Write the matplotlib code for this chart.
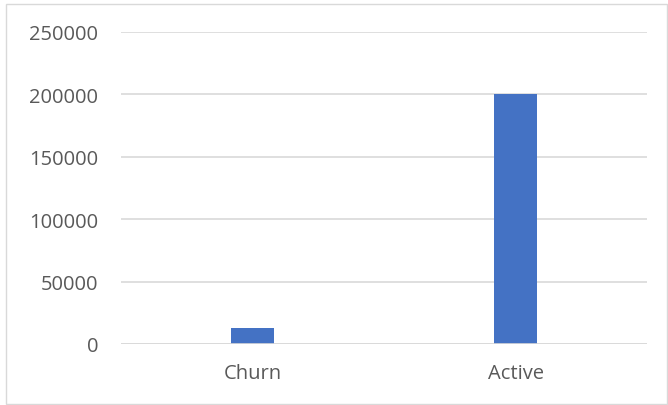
import matplotlib
matplotlib.use("Agg")
import matplotlib.pyplot as plt
from matplotlib.patches import Rectangle

categories = ["Churn", "Active"]
counts = [13000, 200000]
yticks = [0, 50000, 100000, 150000, 200000, 250000]

BAR = "#4472C4"
GRID = "#D9D9D9"
TEXT = "#595959"

plt.rcParams.update({"font.family": ["Open Sans", "DejaVu Sans"], "font.size": 14.5})

fig = plt.figure(figsize=(6.68, 4.06), dpi=100)
ax = fig.add_axes([121 / 668, 1 - 345 / 406, 526 / 668, 312 / 406])

x = list(range(len(categories)))
ax.bar(x, counts, width=0.167, color=BAR, zorder=3)
ax.set_xlim(-0.5, len(categories) - 0.5)
ax.set_ylim(0, 250000)
ax.set_yticks(yticks)
ax.set_yticklabels([str(v) for v in yticks])
ax.set_xticks(x)
ax.set_xticklabels(categories)
ax.yaxis.grid(True, color=GRID, linewidth=1.2, zorder=0)
ax.tick_params(length=0, colors=TEXT, labelsize=14.5)
ax.tick_params(axis="y", pad=16.5)
ax.tick_params(axis="x", pad=13.5)
for s in ax.spines.values():
    s.set_visible(False)
ax.axhline(0, color=GRID, linewidth=1.2, zorder=4)

# chart frame
fig.patches.append(Rectangle((5.5 / 668, 1 / 406), 661 / 668, 400 / 406,
                             transform=fig.transFigure, fill=False,
                             edgecolor=GRID, linewidth=1))

fig.savefig("out.png", dpi=100)
